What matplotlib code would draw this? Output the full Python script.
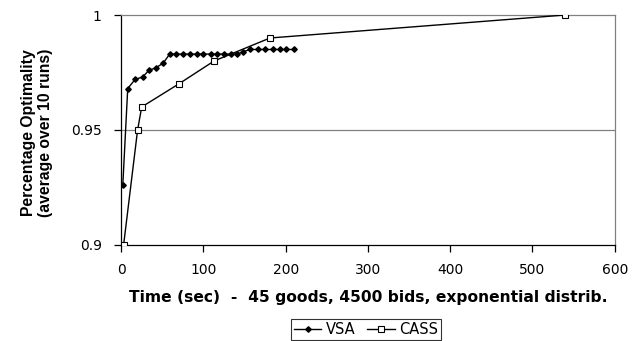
import matplotlib
matplotlib.use("Agg")
import matplotlib.pyplot as plt

plt.rcParams["font.family"] = ["DejaVu Sans"]

# --- Data ---
vsa_time = [2, 8, 17, 26, 34, 42, 51, 59, 67, 75, 84, 92, 100, 109, 117, 125,
            133, 141, 148, 157, 166, 175, 184, 193, 201, 210]
vsa_opt = [0.926, 0.968, 0.972, 0.973, 0.976, 0.977, 0.979, 0.983, 0.983,
           0.983, 0.983, 0.983, 0.983, 0.983, 0.983, 0.983, 0.983, 0.983,
           0.984, 0.985, 0.985, 0.985, 0.985, 0.985, 0.985, 0.985]

cass_time = [3, 20, 25, 70, 113, 181, 540]
cass_opt = [0.900, 0.950, 0.960, 0.970, 0.980, 0.990, 1.000]

x_ticks = [0, 100, 200, 300, 400, 500, 600]
y_ticks = [0.9, 0.95, 1.0]
y_tick_labels = ["0.9", "0.95", "1"]

# --- Plot ---
fig = plt.figure(figsize=(6.41, 3.41), dpi=100)
ax = fig.add_axes([0.189, 0.282, 0.770, 0.674])

ax.plot(vsa_time, vsa_opt, color="black", linewidth=1, marker="D",
        markersize=2.8, markerfacecolor="black", label="VSA", zorder=3)
ax.plot(cass_time, cass_opt, color="black", linewidth=1, marker="s",
        markersize=4, markerfacecolor="white", markeredgewidth=0.8,
        label="CASS", zorder=3)

ax.axhline(0.95, color="#808080", linewidth=0.9, zorder=1)

ax.set_xlim(0, 600)
ax.set_ylim(0.9, 1.0)
ax.set_xticks(x_ticks)
ax.set_yticks(y_ticks)
ax.set_yticklabels(y_tick_labels)
ax.tick_params(direction="out", length=5, width=0.9, labelsize=10,
               colors="black")
ax.tick_params(axis="x", pad=8)
ax.tick_params(axis="y", pad=9)

for side in ["top", "right"]:
    ax.spines[side].set_color("#808080")
for side in ["left", "bottom"]:
    ax.spines[side].set_color("black")
for s in ax.spines.values():
    s.set_linewidth(0.9)

ax.set_xlabel("Time (sec)  -  45 goods, 4500 bids, exponential distrib.",
              fontsize=11.2, fontweight="bold")
ax.xaxis.label.set_va("center")
ax.xaxis.set_label_coords(0.5, -0.23)

ax.set_ylabel("Percentage Optimality\n(average over 10 runs)",
              fontsize=11.3, fontweight="bold",
              family=["Liberation Sans", "DejaVu Sans"])
ax.yaxis.label.set_va("center")
ax.yaxis.set_label_coords(-0.17, 0.487)

leg = ax.legend(loc="upper center", bbox_to_anchor=(0.496, -0.322), ncol=2,
                frameon=True, fancybox=False, edgecolor="black",
                fontsize=10.5, handlelength=1.9, handletextpad=0.3,
                columnspacing=0.8, borderpad=0.2, borderaxespad=0)
leg.get_frame().set_linewidth(0.8)

fig.savefig("out.png", dpi=100)
